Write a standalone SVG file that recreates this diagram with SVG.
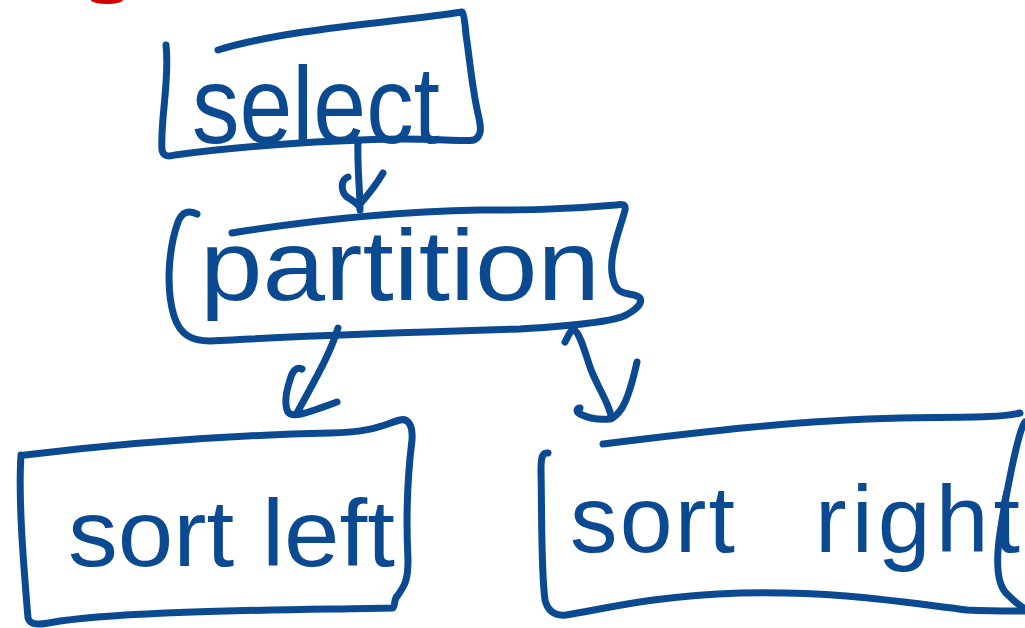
<svg xmlns="http://www.w3.org/2000/svg" width="1025" height="628" viewBox="0 0 1025 628">
  <style>
    .ink { fill: none; stroke: #0b4a90; stroke-width: 7; stroke-linecap: round; stroke-linejoin: round; }
    .label { fill: #0b4a90; font-family: "Liberation Sans", Arial, sans-serif; font-weight: normal; }
  </style>

  <!-- red pen mark at the top edge -->
  <ellipse cx="107" cy="0" rx="16" ry="4" fill="#d40000"/>

  <g id="node-select">
    <path class="ink" d="M166,45 C170,80 160,120 162,150 C163,156 168,157 175,155 C240,146 330,140 400,139 C440,139 465,142 474,140 C482,136 481,128 479,118 C472,90 470,60 466,35 C465,22 464,14 462,12 C400,22 290,28 218,50"/>
    <text class="label" x="192" y="143" font-size="110" textLength="248" lengthAdjust="spacingAndGlyphs">select</text>
  </g>

  <g id="node-partition">
    <path class="ink" d="M197,214 C188,210 182,212 178,222 C168,250 166,290 174,316 C180,335 192,341 210,341 C300,336 420,332 520,329 C570,326 610,322 624,316 C634,311 643,304 640,298 C634,292 620,297 615,285 C605,262 620,230 625,210 C626,204 622,204 616,205 C560,210 520,210 480,210 C380,212 300,222 232,233"/>
    <text class="label" x="200" y="300" font-size="100" textLength="400" lengthAdjust="spacingAndGlyphs">partition</text>
  </g>

  <g id="node-sort-left">
    <path class="ink" d="M21,455 C18,500 24,570 28,618 C30,626 40,625 60,621 C140,610 300,610 393,608 C396,604 393,600 398,595 C405,585 408,580 408,560 C406,520 407,480 412,440 C413,425 408,418 400,420 C385,424 375,432 330,433 C240,435 150,440 25,455"/>
    <text class="label" x="68" y="566" font-size="95" textLength="327" lengthAdjust="spacingAndGlyphs">sort left</text>
  </g>

  <g id="node-sort-right">
    <path class="ink" d="M548,453 C542,452 541,458 541,470 C542,520 541,570 545,600 C548,612 556,616 566,615 C600,610 650,596 740,593 C840,591 900,602 967,610 C990,611 1010,611 1025,611"/>
    <path class="ink" d="M603,444 C700,432 800,420 900,418 C960,417 1000,418 1020,413"/>
    <path class="ink" d="M1025,422 C1018,430 1005,500 1000,533 C996,560 996,585 1008,595 C1015,602 1020,606 1025,609"/>
    <text class="label" font-size="95" y="552" lengthAdjust="spacingAndGlyphs">
      <tspan x="570" textLength="165">sort</tspan><tspan x="815" textLength="205">right</tspan>
    </text>
  </g>

  <g id="connectors">
    <!-- select to partition -->
    <path class="ink" d="M358,140 C357,165 360,190 360,210"/>
    <path class="ink" d="M348,177 C340,180 341,192 347,197 C352,200 356,203 358,205 M383,173 C376,185 368,195 360,204"/>
    <!-- partition to sort left -->
    <path class="ink" d="M338,328 C330,355 312,385 297,413"/>
    <path class="ink" d="M302,369 C296,366 292,372 290,380 C286,392 284,404 288,412 C292,418 305,414 337,402"/>
    <!-- partition to sort right, pen doubles back at the top -->
    <path class="ink" d="M565,342 C568,337 570,330 574,330 C579,332 583,345 590,367 C596,384 606,398 610,412 C611,416 612,418 612,418"/>
    <path class="ink" d="M637,362 C633,380 628,398 622,408 C618,414 614,418 610,419 C600,420 588,418 580,414 C576,412 576,408 580,408"/>
  </g>
</svg>
